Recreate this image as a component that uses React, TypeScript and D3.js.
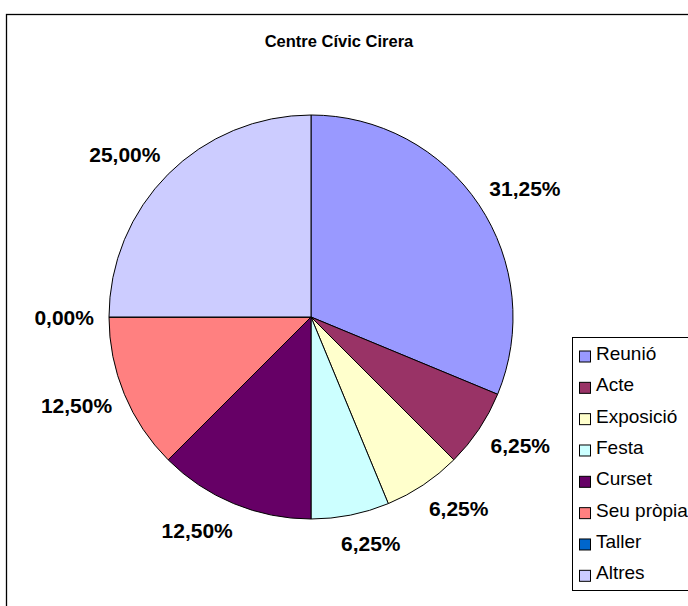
import React from "react";
import * as d3 from "d3";

const title = "Centre Cívic Cirera";
const categories = ["Reunió", "Acte", "Exposició", "Festa", "Curset", "Seu pròpia", "Taller", "Altres"];
const values = [31.25, 6.25, 6.25, 6.25, 12.5, 12.5, 0, 25];
const colors = ["#9999FF", "#993366", "#FFFFCC", "#CCFFFF", "#660066", "#FF8080", "#0066CC", "#CCCCFF"];

const W = 688;
const H = 606;
const FONT = "'Liberation Sans', Arial, Helvetica, sans-serif";

const fmt = (v: number) => v.toFixed(2).replace(".", ",") + "%";

export default function App() {
  const cx = 311;
  const cy = 317;
  const r = 202;
  const labelFont = 21;
  const pie = d3.pie<number>().sort(null).value((d) => d).startAngle(0).endAngle(2 * Math.PI);
  const arcs = pie(values);
  const arcGen = d3.arc<d3.PieArcDatum<number>>().innerRadius(0).outerRadius(r);

  // approximate width of a label in Arial bold
  const charW: Record<string, number> = { ",": 0.278, "%": 0.889 };
  const textWidth = (s: string) =>
    s.split("").reduce((a, ch) => a + (charW[ch] ?? 0.556), 0) * labelFont;

  const legendX = 572;
  const legendY = 337;
  const legendRow = 31.33;
  const labelR = r + 21;

  return (
    <svg
      width={W}
      height={H}
      style={{ position: "absolute", left: 0, top: 0, display: "block", background: "#fff" }}
      fontFamily={FONT}
    >
      <rect x={0} y={0} width={W} height={H} fill="#fff" />
      <rect x={6.5} y={14.5} width={800} height={700} fill="#fff" stroke="#000" strokeWidth={1.3} />
      <text x={339} y={47.3} textAnchor="middle" fontSize={16.5} fontWeight="bold" fill="#000">
        {title}
      </text>
      <g transform={`translate(${cx},${cy})`}>
        {arcs.map((a, i) => (
          <path key={i} d={arcGen(a) || ""} fill={colors[i]} stroke="#000" strokeWidth={1} strokeLinejoin="round" />
        ))}
        {arcs.map((a, i) => {
          const mid = (a.startAngle + a.endAngle) / 2;
          const s = Math.sin(mid);
          const c = Math.cos(mid);
          const label = fmt(values[i]);
          const w = textWidth(label);
          const h = labelFont * 0.72;
          const x = labelR * s + Math.sign(s) * 0.8 * Math.min(1, 3.5 * Math.abs(s)) * (w / 2);
          const yc = -labelR * c - c * (h / 2);
          return (
            <text key={"l" + i} x={x} y={yc + h / 2} textAnchor="middle" fontSize={labelFont} fontWeight="bold" fill="#000">
              {label}
            </text>
          );
        })}
      </g>
      <rect x={legendX + 0.5} y={legendY + 0.5} width={200} height={253} fill="#fff" stroke="#000" strokeWidth={1} />
      {categories.map((cat, i) => {
        const base = 360 + i * legendRow;
        return (
          <g key={cat}>
            <rect x={579.5} y={base - 9} width={11} height={11} fill={colors[i]} stroke="#000" strokeWidth={1} />
            <text x={596} y={base} fontSize={19} fill="#000">
              {cat}
            </text>
          </g>
        );
      })}
    </svg>
  );
}
